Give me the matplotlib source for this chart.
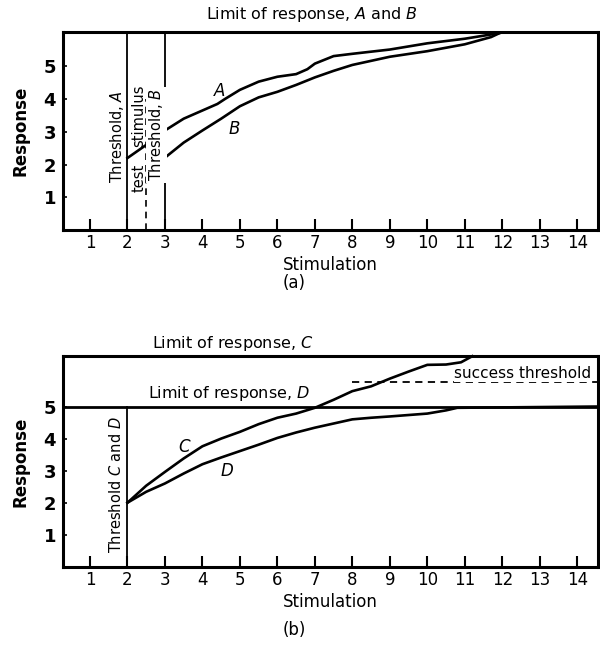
import numpy as np
import matplotlib
matplotlib.use("Agg")
import matplotlib.pyplot as plt

plt.rcParams['font.family'] = ['DejaVu Sans']
plt.rcParams['mathtext.fontset'] = 'dejavusans'

# ---- panel (a) data ----
a_x = [2.0, 2.5, 3.0, 3.5, 4.0, 4.4, 4.6, 5.0, 5.5, 6.0, 6.5, 6.8, 7.0, 7.5, 8.0, 9.0, 10.0, 11.0, 11.7, 12.1, 14.6]
a_y = [2.2, 2.6, 3.04, 3.4, 3.65, 3.85, 4.0, 4.28, 4.53, 4.68, 4.76, 4.91, 5.08, 5.31, 5.38, 5.51, 5.70, 5.84, 5.97, 6.05, 6.05]
b_x = [3.0, 3.5, 4.0, 4.5, 5.0, 5.5, 6.0, 6.5, 7.0, 7.5, 8.0, 9.0, 10.0, 11.0, 11.7, 12.0]
b_y = [2.21, 2.67, 3.04, 3.4, 3.78, 4.05, 4.22, 4.43, 4.66, 4.86, 5.04, 5.29, 5.46, 5.67, 5.89, 6.05]
thresh_a = 2.0
thresh_b = 3.0
test_stim = 2.5

# ---- panel (b) data ----
c_x = [2.0, 2.5, 3.0, 3.5, 4.0, 4.5, 5.0, 5.5, 6.0, 6.5, 7.0, 7.5, 8.0, 8.5, 9.0, 9.5, 10.0, 10.5, 10.9, 11.2]
c_y = [2.0, 2.53, 2.96, 3.38, 3.76, 4.0, 4.21, 4.45, 4.65, 4.78, 4.96, 5.21, 5.48, 5.63, 5.87, 6.09, 6.3, 6.31, 6.38, 6.57]
d_x = [2.0, 2.5, 3.0, 3.5, 4.0, 4.5, 5.0, 5.5, 6.0, 6.5, 7.0, 7.5, 8.0, 8.5, 9.0, 10.0, 10.5, 10.8]
d_y = [2.0, 2.34, 2.6, 2.91, 3.2, 3.41, 3.61, 3.81, 4.02, 4.19, 4.34, 4.47, 4.6, 4.65, 4.69, 4.78, 4.88, 4.96]
thresh_cd = 2.0
limit_d = 5.0
success = 5.78
success_start = 8.0

x_ticks = list(range(1, 15))
y_ticks = [1, 2, 3, 4, 5]


def style_axes(ax, ytop):
    ax.set_xlim(0.28, 14.56)
    ax.set_ylim(0, ytop)
    ax.set_xticks(x_ticks)
    ax.set_xticklabels([str(t) for t in x_ticks], fontsize=12)
    ax.set_yticks(y_ticks)
    ax.set_yticklabels([str(t) for t in y_ticks], fontsize=13, fontweight='bold')
    ax.tick_params(axis='x', direction='in', length=8, width=1.5, pad=3)
    ax.tick_params(axis='y', direction='in', length=3, width=1.2, pad=5)
    for s in ax.spines.values():
        s.set_linewidth(2.2)
    ax.set_xlabel('Stimulation', fontsize=12, labelpad=3)
    ax.set_ylabel('Response', fontsize=12, fontweight='bold', labelpad=10)


fig = plt.figure(figsize=(6, 6.5), dpi=100)

# ---------------- (a) ----------------
ax1 = fig.add_axes([0.105, 0.646, 0.892, 0.305])
style_axes(ax1, 6.05)
ax1.axvline(thresh_a, color='black', lw=1.3)
ax1.axvline(thresh_b, color='black', lw=1.3)
ax1.plot([test_stim, test_stim], [0, 4.0], color='black', lw=1.2, ls=(0, (4, 3)))
ax1.plot(a_x, a_y, color='black', lw=1.9, zorder=2)
ax1.plot(b_x, b_y, color='black', lw=1.9, zorder=2)
ax1.text(4.45, 4.25, 'A', fontsize=12, style='italic', ha='center', va='center')
ax1.text(4.85, 3.1, 'B', fontsize=12, style='italic', ha='center', va='center')
ax1.text(1.72, 2.85, r'Threshold, $\mathit{A}$', rotation=90, fontsize=10.5,
         ha='center', va='center')
ax1.text(2.3, 1.6, 'test', rotation=90, fontsize=10.5, ha='center', va='center')
ax1.text(2.3, 3.5, 'stimulus', rotation=90, fontsize=10.5, ha='center', va='center')
ax1.text(2.77, 2.9, r'Threshold, $\mathit{B}$', rotation=90, fontsize=10.5,
         ha='center', va='center', zorder=3,
         bbox=dict(facecolor='white', edgecolor='none', pad=1.0))
ax1.text(6.93, 6.58, r'Limit of response, $\mathit{A}$ and $\mathit{B}$', fontsize=11.5,
         ha='center', va='center', clip_on=False)
fig.text(0.49, 0.565, '(a)', fontsize=12, ha='center', va='center')

# ---------------- (b) ----------------
ax2 = fig.add_axes([0.105, 0.128, 0.892, 0.324])
style_axes(ax2, 6.57)
ax2.axhline(limit_d, color='black', lw=2.0)
ax2.plot([thresh_cd, thresh_cd], [0, limit_d], color='black', lw=1.3)
ax2.plot([success_start, 14.56], [success, success], color='black', lw=1.3, ls=(0, (4, 3)))
ax2.plot(c_x, c_y, color='black', lw=1.9, clip_on=False)
ax2.plot(d_x + [14.56], d_y + [limit_d], color='black', lw=1.9)
ax2.text(3.5, 3.75, 'C', fontsize=12, style='italic', ha='center', va='center')
ax2.text(4.65, 3.0, 'D', fontsize=12, style='italic', ha='center', va='center')
ax2.text(1.7, 2.55, r'Threshold $\mathit{C}$ and $\mathit{D}$', rotation=90, fontsize=10.5,
         ha='center', va='center')
ax2.text(4.7, 5.4, r'Limit of response, $\mathit{D}$', fontsize=11.5,
         ha='center', va='center')
ax2.text(12.55, 6.02, 'success threshold', fontsize=11, ha='center', va='center',
         bbox=dict(facecolor='white', edgecolor='none', pad=0.5))
ax2.text(4.8, 6.97, r'Limit of response, $\mathit{C}$', fontsize=11.5,
         ha='center', va='center', clip_on=False)
fig.text(0.49, 0.031, '(b)', fontsize=12, ha='center', va='center')

fig.savefig('out.png', dpi=100)
